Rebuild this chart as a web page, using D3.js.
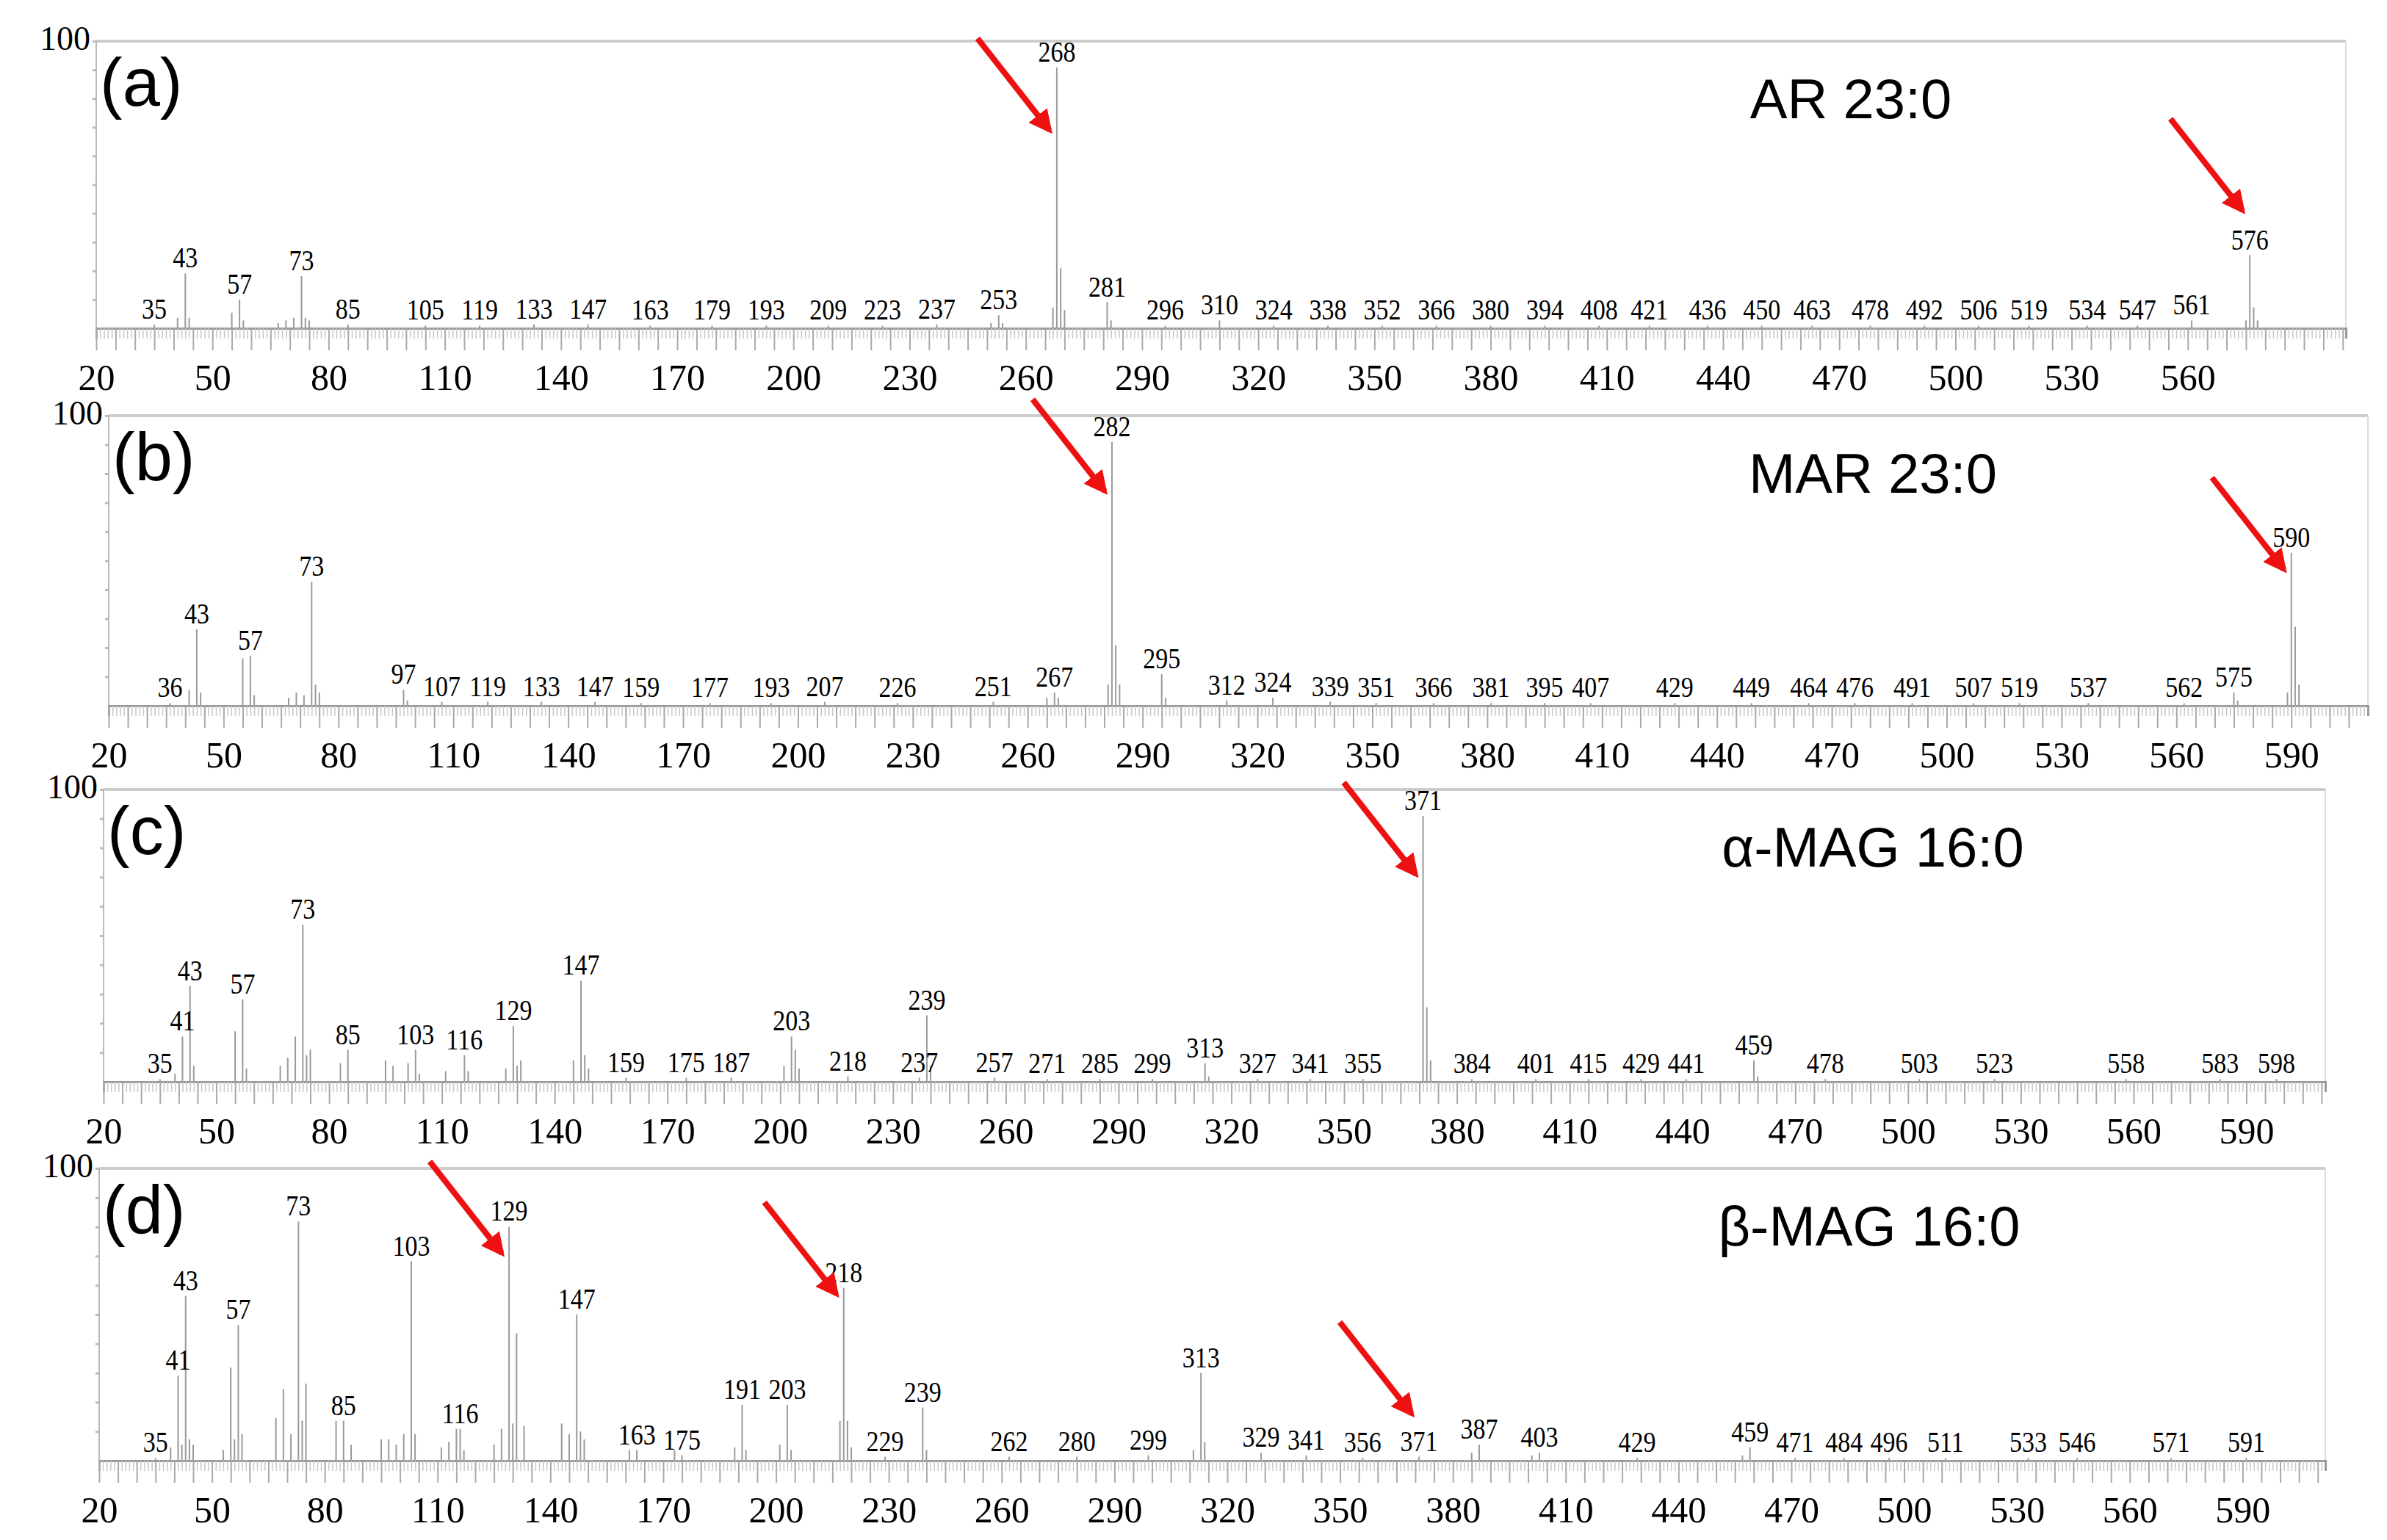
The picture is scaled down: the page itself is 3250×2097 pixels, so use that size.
<!DOCTYPE html>
<html>
<head>
<meta charset="utf-8">
<script src="https://cdn.jsdelivr.net/npm/d3@7"></script>
<style>
body { margin: 0; background: #fff; }
text { font-family: "Liberation Serif", serif; }
</style>
</head>
<body>
<svg id="chart" width="3250" height="2097"></svg>
<script>
// peak lists: [m/z, relative intensity]
var peaksA = [[35,1.5],[41,4],[43,21],[44,4],[55,6],[57,11],[58,3],[67,2],[69,3],[71,4],[73,20],[74,4],[75,3],[85,1.5],[105,1],[119,1],[133,1.5],[147,1.5],[163,1],[179,1],[193,1],[209,1],[223,1],[237,1.5],[251,2],[253,5],[254,2],[267,8],[268,100],[269,23],[270,7],[281,10],[282,3],[296,1],[310,3],[324,1],[338,1],[352,1],[366,1],[380,1],[394,1],[408,1],[421,1],[436,1],[450,1],[463,1],[478,1],[492,1],[506,1],[519,1],[534,1],[547,1],[561,3],[575,3],[576,28],[577,8],[578,3]];
var labelsA = [35,43,57,73,85,105,119,133,147,163,179,193,209,223,237,253,268,281,296,310,324,338,352,366,380,394,408,421,436,450,463,478,492,506,519,534,547,561,576];

var peaksB = [[36,1],[41,6],[43,29],[44,5],[55,18],[57,19],[58,4],[67,3],[69,5],[71,4],[73,47],[74,8],[75,5],[97,6],[98,2],[107,1.5],[119,1.5],[133,1.5],[147,1.5],[159,1],[177,1],[193,1],[207,1.5],[226,1],[251,1.5],[265,3],[267,5],[268,3],[281,8],[282,100],[283,23],[284,8],[295,12],[296,3],[312,2],[324,3],[339,1.5],[351,1],[366,1],[381,1],[395,1],[407,1],[429,1],[449,1],[464,1],[476,1],[491,1],[507,1],[519,1],[537,1],[562,1],[575,5],[576,2],[589,5],[590,58],[591,30],[592,8]];
var labelsB = [36,43,57,73,97,107,119,133,147,159,177,193,207,226,251,267,282,295,312,324,339,351,366,381,395,407,429,449,464,476,491,507,519,537,562,575,590];

var peaksC = [[35,1],[39,3],[41,17],[43,36],[44,6],[55,19],[57,31],[58,5],[67,6],[69,9],[71,17],[73,59],[74,10],[75,12],[83,7],[85,12],[95,8],[97,6],[101,7],[103,12],[104,3],[111,4],[116,10],[117,4],[127,5],[129,21],[130,6],[131,8],[145,8],[147,38],[148,10],[149,5],[159,1.5],[175,1.5],[187,1.5],[201,6],[203,17],[204,12],[205,5],[218,2],[237,1.5],[239,25],[240,6],[257,1.5],[271,1],[285,1],[299,1],[313,7],[314,2],[327,1],[341,1],[355,1],[371,100],[372,28],[373,8],[384,1],[401,1],[415,1],[429,1],[441,1],[459,8],[460,2],[478,1],[503,1],[523,1],[558,1],[583,1],[598,1]];
var labelsC = [35,41,43,57,73,85,103,116,129,147,159,175,187,203,218,237,239,257,271,285,299,313,327,341,355,371,384,401,415,429,441,459,478,503,523,558,583,598];

var peaksD = [[35,1],[39,5],[41,32],[42,6],[43,62],[44,8],[45,6],[53,4],[55,35],[56,8],[57,51],[58,10],[67,16],[69,27],[71,10],[73,90],[74,15],[75,29],[83,15],[85,15],[87,6],[95,8],[97,8],[99,6],[101,10],[103,75],[104,10],[111,5],[113,7],[115,12],[116,12],[117,4],[125,6],[127,12],[129,88],[130,14],[131,48],[133,13],[143,14],[145,10],[147,55],[148,11],[149,8],[161,4],[163,4],[173,4],[175,2],[189,5],[191,21],[192,4],[201,6],[203,21],[204,4],[217,15],[218,65],[219,15],[220,5],[229,1.5],[239,20],[240,4],[262,1.5],[280,1.5],[299,2],[311,4],[313,33],[314,7],[329,3],[341,2],[356,1],[371,1.5],[385,3],[387,6],[401,2],[403,3],[429,1],[457,2],[459,5],[471,1],[484,1],[496,1],[511,1],[533,1],[546,1],[571,1],[591,1]];
var labelsD = [35,41,43,57,73,85,103,116,129,147,163,175,191,203,218,229,239,262,280,299,313,329,341,356,371,387,403,429,459,471,484,496,511,533,546,571,591];

var xTicksA = [20,50,80,110,140,170,200,230,260,290,320,350,380,410,440,470,500,530,560];
var xTicks = [20,50,80,110,140,170,200,230,260,290,320,350,380,410,440,470,500,530,560,590];

// arrows: [m/z of peak, intensity level where the arrow tip sits]
var arrowsA = [[268, 69], [576, 41]];
var arrowsB = [[282, 74], [590, 47]];
var arrowsC = [[371, 71]];
var arrowsD = [[129, 71], [218, 57], [371, 16]];

var panels = [
  {tag: "(a)", name: "AR 23:0", peaks: peaksA, labels: labelsA, arrows: arrowsA, ticks: xTicksA, top: 56, base: 447, left: 131, right: 3194, max: 600.8},
  {tag: "(b)", name: "MAR 23:0", peaks: peaksB, labels: labelsB, arrows: arrowsB, ticks: xTicks, top: 566, base: 961, left: 148, right: 3224, max: 610},
  {tag: "(c)", name: "α-MAG 16:0", peaks: peaksC, labels: labelsC, arrows: arrowsC, ticks: xTicks, top: 1075, base: 1473, left: 141, right: 3166, max: 611},
  {tag: "(d)", name: "β-MAG 16:0", peaks: peaksD, labels: labelsD, arrows: arrowsD, ticks: xTicks, top: 1591, base: 1989, left: 135, right: 3166, max: 612}
];
var titleX = [2520, 2550, 2550, 2545];

var svg = d3.select("#chart");
var defs = svg.append("defs");
defs.append("marker").attr("id", "head").attr("viewBox", "0 0 10 10")
  .attr("refX", 8).attr("refY", 5).attr("markerWidth", 4).attr("markerHeight", 4)
  .attr("orient", "auto")
  .append("path").attr("d", "M0,0L10,5L0,10z").attr("fill", "#ee1111");

panels.forEach(function(p, i) {
  var x = d3.scaleLinear().domain([20, p.max]).range([p.left, p.right]);
  var y = d3.scaleLinear().domain([0, 100]).range([p.base, p.top + 36]);
  var yAxis = d3.scaleLinear().domain([0, 100]).range([p.base, p.top]);
  var g = svg.append("g");

  // frame
  g.append("line").attr("x1", p.left).attr("x2", p.right).attr("y1", p.top).attr("y2", p.top)
    .attr("stroke", "#ccc").attr("stroke-width", 4);
  g.append("line").attr("x1", p.right).attr("x2", p.right).attr("y1", p.top).attr("y2", p.base)
    .attr("stroke", "#ddd").attr("stroke-width", 2);
  g.append("line").attr("x1", p.left).attr("x2", p.left).attr("y1", p.top).attr("y2", p.base)
    .attr("stroke", "#bbb").attr("stroke-width", 2);

  // y ticks
  var yAx = g.append("g").attr("transform", "translate(" + p.left + ",0)")
    .call(d3.axisLeft(yAxis).tickValues(d3.range(10, 101, 10)).tickSize(5).tickFormat(""));
  yAx.select(".domain").remove();
  yAx.selectAll("line").attr("stroke", "#bbb").attr("stroke-width", 3);
  g.append("text").attr("x", p.left - 8).attr("y", p.top + 12).attr("text-anchor", "end")
    .style("font-size", "46px").text("100");

  // x axis: minor ticks every unit, longer every 5
  var xAx1 = g.append("g").attr("transform", "translate(0," + p.base + ")")
    .call(d3.axisBottom(x).tickValues(d3.range(20, p.max, 1)).tickSize(14).tickFormat(""));
  xAx1.selectAll("line").attr("stroke", "#c8c8c8").attr("stroke-width", 1.5);
  xAx1.select(".domain").attr("stroke", "#999").attr("stroke-width", 3);
  var xAx2 = g.append("g").attr("transform", "translate(0," + p.base + ")")
    .call(d3.axisBottom(x).tickValues(d3.range(20, p.max, 5)).tickSize(30).tickFormat(""));
  xAx2.selectAll("line").attr("stroke", "#aaa").attr("stroke-width", 2);
  xAx2.select(".domain").remove();
  var xAx3 = g.append("g").attr("transform", "translate(0," + p.base + ")")
    .call(d3.axisBottom(x).tickValues(p.ticks).tickSize(0).tickPadding(48));
  xAx3.select(".domain").remove();
  xAx3.selectAll("text").style("font-family", "Liberation Serif").style("font-size", "50px").attr("fill", "#000");

  // peaks
  g.selectAll(".pk").data(p.peaks).enter().append("line")
    .attr("x1", function(d) { return x(d[0]); }).attr("x2", function(d) { return x(d[0]); })
    .attr("y1", p.base).attr("y2", function(d) { return y(d[1]); })
    .attr("stroke", "#9a9a9a").attr("stroke-width", 2);

  // peak labels
  var lookup = new Map(p.peaks);
  g.selectAll(".lb").data(p.labels).enter().append("text")
    .attr("text-anchor", "middle")
    .attr("transform", function(d) {
      var ty = Math.min(y(lookup.get(d) || 0) - 8, p.base - 6);
      return "translate(" + x(d) + "," + ty + ") scale(0.85,1)";
    })
    .style("font-size", "40px").text(function(d) { return d; });

  // arrows
  g.selectAll(".ar").data(p.arrows).enter().append("line")
    .attr("x2", function(d) { return x(d[0]) - 10; })
    .attr("y2", function(d) { return yAxis(d[1]); })
    .attr("x1", function(d) { return x(d[0]) - 10 - 98; })
    .attr("y1", function(d) { return yAxis(d[1]) - 125; })
    .attr("stroke", "#ee1111").attr("stroke-width", 8).attr("marker-end", "url(#head)");

  g.append("text").attr("x", p.left + 5).attr("y", p.top + 88)
    .style("font-family", "Liberation Sans").style("font-size", "92px").text(p.tag);
  g.append("text").attr("x", titleX[i]).attr("y", p.top + 105).attr("text-anchor", "middle")
    .style("font-family", "Liberation Sans").style("font-size", "76px").text(p.name);
});
</script>
</body>
</html>
